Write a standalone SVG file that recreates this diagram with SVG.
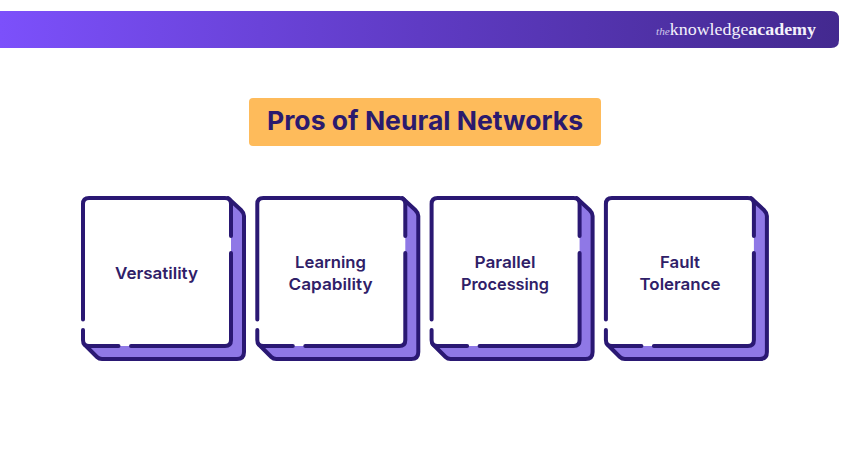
<svg xmlns="http://www.w3.org/2000/svg" xmlns:xlink="http://www.w3.org/1999/xlink" width="850" height="450" viewBox="0 0 850 450">
<style>
.ink{fill:#2b1a6e}
.label{font-family:"Inter","Noto Sans",sans-serif;font-weight:600;font-size:16.5px;fill:#2f2068;text-anchor:middle}
.fillback{fill:#8f78e6}
.edge{fill:none;stroke:#2a1873;stroke-width:4;stroke-linejoin:round;stroke-linecap:round}
.logo{font-family:"Liberation Serif",serif;fill:#f4f1fb;font-size:17.5px}
</style>
<defs>
<linearGradient id="bar" x1="0" x2="1" y1="0" y2="0">
<stop offset="0" stop-color="#7c50fb"/><stop offset="0.5" stop-color="#5f3bc4"/><stop offset="1" stop-color="#43298f"/>
</linearGradient>
<g id="card">
<path class="fillback" d="M228,198 L244,213 V352 Q244,359 237,359 H99 L85,345 Z"/>
<path class="edge" d="M228,198 L241,210 Q244,213 244,216 V352 Q244,359 237,359 H102 Q99,359 97,357 L85,345"/>
<rect x="83" y="198" width="148" height="148" rx="6" fill="#fff"/>
<path class="edge" d="M83,319.500 V204 Q83,198 89,198 H225 Q231,198 231,204 V236 M231,253 V340 Q231,346 225,346 H131 M118.500,346 H89 Q83,346 83,340 V330"/>
</g>
</defs>
<g id="header">
<path d="M0,11 H831 Q839,11 839,19 V40 Q839,48 831,48 H0 Z" fill="url(#bar)"/>
<text class="logo" x="656" y="35" textLength="160" lengthAdjust="spacingAndGlyphs"><tspan font-style="italic" font-size="11" fill="#cfc6ea">the</tspan><tspan>knowledge</tspan><tspan font-weight="700">academy</tspan></text>
</g>
<g id="title">
<rect x="249" y="98" width="352" height="48" rx="4" fill="#febb5b"/>
<text x="425" y="130" text-anchor="middle" font-family="Inter,'Noto Sans',sans-serif" font-weight="700" font-size="26" class="ink" textLength="316" lengthAdjust="spacingAndGlyphs">Pros of Neural Networks</text>
</g>
<g id="connectors"></g>
<g id="node-versatility">
<use href="#card"/>
<text class="label" x="156.500" y="279" textLength="83" lengthAdjust="spacingAndGlyphs">Versatility</text>
</g>
<g id="node-learning">
<use href="#card" x="174.300"/>
<text class="label" x="330.500" y="268" textLength="71" lengthAdjust="spacingAndGlyphs">Learning</text>
<text class="label" x="330.500" y="290" textLength="84" lengthAdjust="spacingAndGlyphs">Capability</text>
</g>
<g id="node-parallel">
<use href="#card" x="348.600"/>
<text class="label" x="505" y="268" textLength="61" lengthAdjust="spacingAndGlyphs">Parallel</text>
<text class="label" x="505" y="290" textLength="88" lengthAdjust="spacingAndGlyphs">Processing</text>
</g>
<g id="node-fault">
<use href="#card" x="522.900"/>
<text class="label" x="680" y="268" textLength="40" lengthAdjust="spacingAndGlyphs">Fault</text>
<text class="label" x="680" y="290" textLength="81" lengthAdjust="spacingAndGlyphs">Tolerance</text>
</g>
</svg>
